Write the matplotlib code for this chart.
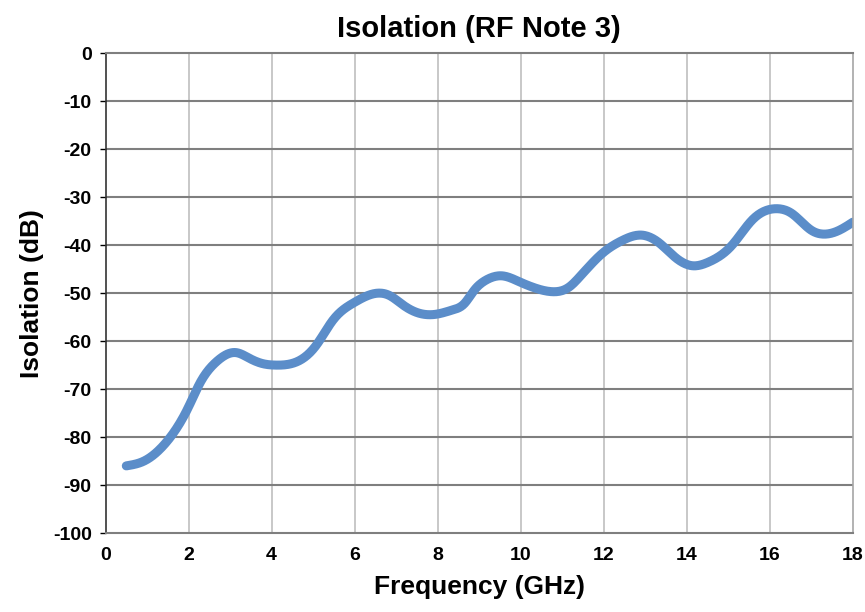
import matplotlib
matplotlib.use("Agg")
import matplotlib.pyplot as plt
import numpy as np

# values
freq = [0.5, 0.9, 1.47, 2.0, 2.27, 2.67, 3.15, 3.47, 3.79, 4.11, 4.68, 5.08, 5.48,
        5.98, 6.56, 6.84, 7.17, 7.56, 7.96, 8.36, 8.64, 8.88, 9.16, 9.56, 9.96,
        10.37, 10.77, 11.17, 11.42, 11.98, 12.45, 12.9, 13.33, 13.73, 14.15, 14.53,
        15.09, 15.57, 16.14, 16.53, 17.0, 17.3, 17.67, 18.0]
isolation = [-86.0, -85.1, -81.0, -73.7, -68.8, -64.3, -62.4, -63.6, -64.7, -65.0,
             -64.0, -60.8, -55.6, -52.0, -50.0, -50.5, -52.5, -54.2, -54.4, -53.5,
             -52.2, -49.4, -47.3, -46.4, -47.6, -49.0, -49.7, -48.7, -46.6, -41.6,
             -39.0, -37.9, -39.5, -42.6, -44.3, -43.5, -40.0, -34.8, -32.4, -33.4,
             -36.9, -37.7, -36.9, -35.2]


def smooth(xs, ys, n=800):
    # natural cubic spline through the read points (Excel draws a smoothed line)
    x = np.asarray(xs, float)
    y = np.asarray(ys, float)
    h = np.diff(x)
    m = len(x)
    A = np.zeros((m, m))
    b = np.zeros(m)
    A[0, 0] = A[-1, -1] = 1
    for i in range(1, m - 1):
        A[i, i - 1] = h[i - 1]
        A[i, i] = 2 * (h[i - 1] + h[i])
        A[i, i + 1] = h[i]
        b[i] = 6 * ((y[i + 1] - y[i]) / h[i] - (y[i] - y[i - 1]) / h[i - 1])
    M = np.linalg.solve(A, b)
    xx = np.linspace(x[0], x[-1], n)
    k = np.clip(np.searchsorted(x, xx) - 1, 0, m - 2)
    t0 = x[k + 1] - xx
    t1 = xx - x[k]
    hk = h[k]
    yy = (M[k] * t0 ** 3 + M[k + 1] * t1 ** 3) / (6 * hk) \
        + (y[k] / hk - M[k] * hk / 6) * t0 + (y[k + 1] / hk - M[k + 1] * hk / 6) * t1
    return xx, yy


plt.rcParams['font.family'] = ['Liberation Sans', 'DejaVu Sans']
plt.rcParams['axes.unicode_minus'] = False

fig = plt.figure(figsize=(8.65, 6.12), dpi=100)
ax = fig.add_axes([0.122, 0.129, 0.864, 0.784])

sx, sy = smooth(freq, isolation)
ax.plot(sx, sy, color="#5B8DC9", linewidth=6.5, solid_capstyle="round")

ax.set_xlim(0, 18)
ax.set_ylim(-100, 0)
ax.set_xticks(np.arange(0, 19, 2))
ax.set_yticks(np.arange(-100, 1, 10))
for x in np.arange(2, 18, 2):
    ax.axvline(x, color="#BFBFBF", linewidth=1.2, zorder=0)
for y in np.arange(-90, 0, 10):
    ax.axhline(y, color="#7F7F7F", linewidth=1.5, zorder=0)

ax.spines['top'].set_color("#7F7F7F")
ax.spines['top'].set_linewidth(1.5)
ax.spines['right'].set_color("#A6A6A6")
ax.spines['right'].set_linewidth(1.2)
ax.spines['bottom'].set_color("#7F7F7F")
ax.spines['bottom'].set_linewidth(1.5)
ax.spines['left'].set_color("#333333")
ax.spines['left'].set_linewidth(1.2)

ax.tick_params(axis='x', length=0, pad=10, labelsize=14)
ax.tick_params(axis='y', length=4, width=1, pad=6, labelsize=14)
for lab in ax.get_xticklabels() + ax.get_yticklabels():
    lab.set_fontweight("bold")

ax.set_title("Isolation (RF Note 3)", fontsize=21, fontweight="bold", pad=12)
ax.set_xlabel("Frequency (GHz)", fontsize=19, fontweight="bold", labelpad=8)
ax.set_ylabel("Isolation (dB)", fontsize=19, fontweight="bold", labelpad=6)

fig.savefig("out.png", dpi=100)
